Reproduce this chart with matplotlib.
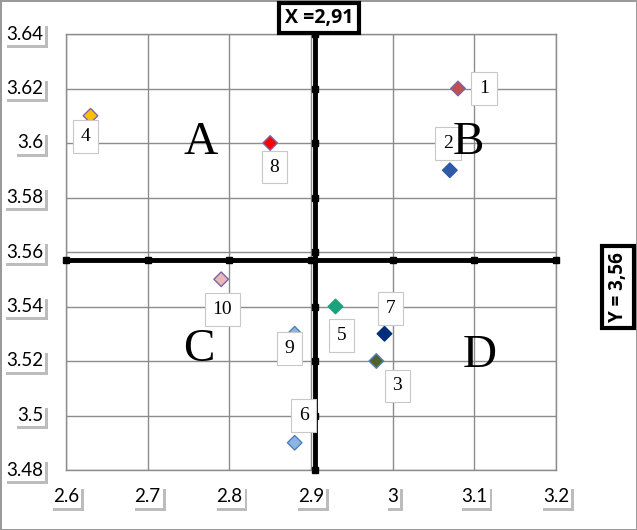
import matplotlib.pyplot as plt
from matplotlib import transforms
import matplotlib.patheffects as pe

# Data
point_ids = ["1", "2", "3", "4", "5", "6", "7", "8", "9", "10"]
x_vals = [3.08, 3.07, 2.98, 2.63, 2.93, 2.88, 2.99, 2.85, 2.88, 2.79]
y_vals = [3.62, 3.59, 3.52, 3.61, 3.54, 3.49, 3.53, 3.60, 3.53, 3.55]
point_colors = ["#c0504d", "#2e5aa8", "#4f6228", "#ffc000", "#1aa37a",
                "#8db4e2", "#002e7a", "#ff0000", "#8db4e2", "#e6b9b8"]
edge_colors = ["#8064a2", "#2e5aa8", "#4f81bd", "#8064a2", "#1aa37a",
               "#4f81bd", "#002e7a", "#8064a2", "#4f81bd", "#8064a2"]
# label box offsets from point (pixels)
label_offsets = [(26, 0), (-2, 27), (21, -25), (-5, -21), (6, -29),
                 (9, 27), (6, 25), (4, -24), (-5, -15), (1, -30)]

x_ticks = [2.6, 2.7, 2.8, 2.9, 3.0, 3.1, 3.2]
x_tick_labels = ["2.6", "2.7", "2.8", "2.9", "3", "3.1", "3.2"]
y_ticks = [3.48, 3.50, 3.52, 3.54, 3.56, 3.58, 3.60, 3.62, 3.64]
y_tick_labels = ["3.48", "3.5", "3.52", "3.54", "3.56", "3.58", "3.6", "3.62", "3.64"]

x_split = 2.905   # drawn position of "X =2,91"
y_split = 3.557   # drawn position of "Y = 3,56"

quadrants = ["A", "B", "C", "D"]
quad_x = [2.765, 3.093, 2.763, 3.106]
quad_y = [3.600, 3.600, 3.524, 3.522]

W, H = 637, 530
fig = plt.figure(figsize=(W / 100, H / 100), dpi=100)
fig.patch.set_edgecolor("#9a9a9a")
fig.patch.set_linewidth(2)

ax = fig.add_axes([66 / W, (H - 470) / H, 490 / W, 436 / H])
ax.set_xlim(2.6, 3.2)
ax.set_ylim(3.48, 3.64)
ax.set_xticks(x_ticks)
ax.set_yticks(y_ticks)
ax.set_xticklabels([])
ax.set_yticklabels([])
ax.tick_params(length=0)
ax.grid(True, color="#8c8c8c", linewidth=1)
ax.set_axisbelow(True)
for s in ax.spines.values():
    s.set_color("#8c8c8c")
    s.set_linewidth(1)

# tick labels with white box and shadow
sans = "Lato"
shadow = [pe.SimplePatchShadow(offset=(2, -2), shadow_rgbFace="#a0a0a0", alpha=0.7),
          pe.Normal()]
for xv, lab in zip(x_ticks, x_tick_labels):
    tr = transforms.blended_transform_factory(ax.transData, fig.transFigure)
    t = ax.text(xv, (H - 497) / H, lab, transform=tr, ha="center", va="center",
                fontsize=13.5, family=sans, color="black",
                bbox=dict(boxstyle="square,pad=0.12", fc="white", ec="none"))
    t.get_bbox_patch().set_path_effects(shadow)
for yv, lab in zip(y_ticks, y_tick_labels):
    tr = transforms.blended_transform_factory(fig.transFigure, ax.transData)
    t = ax.text(43 / W, yv, lab, transform=tr, ha="right", va="center",
                fontsize=13.5, family=sans, color="black",
                bbox=dict(boxstyle="square,pad=0.12", fc="white", ec="none"))
    t.get_bbox_patch().set_path_effects(shadow)

# split lines
ax.plot([x_split, x_split], [3.48, 3.64 + 0.002], color="black", lw=3.5,
        clip_on=False, zorder=3, solid_capstyle="butt")
ax.plot([2.6, 3.2], [y_split, y_split], color="black", lw=3.5,
        clip_on=False, zorder=3, solid_capstyle="butt")
ax.plot([x_split] * len(y_ticks), y_ticks, "s", color="black", ms=4,
        clip_on=False, zorder=3)
ax.plot(x_ticks, [y_split] * len(x_ticks), "s", color="black", ms=4,
        clip_on=False, zorder=3)

# points
ax.scatter(x_vals, y_vals, marker="D", s=55, c=point_colors,
           edgecolors=edge_colors, linewidths=1, zorder=4)

for pid, xv, yv, off in zip(point_ids, x_vals, y_vals, label_offsets):
    ax.annotate(pid, (xv, yv), xytext=off, textcoords="offset pixels",
                ha="center", va="center", fontsize=14,
                family="Liberation Serif", zorder=5,
                bbox=dict(boxstyle="square,pad=0.4", fc="white", ec="#c8c8c8", lw=0.8))

for q, qx, qy in zip(quadrants, quad_x, quad_y):
    ax.text(qx, qy, q, ha="center", va="center", fontsize=34,
            family="Liberation Serif", zorder=5)

# split labels
fig.text(319 / W, (H - 18) / H, "X =2,91", ha="center", va="center",
         fontsize=14, fontweight="bold", family="Open Sans",
         bbox=dict(boxstyle="square,pad=0.28", fc="white", ec="black", lw=3))
fig.text(618 / W, (H - 287) / H, "Y = 3,56", ha="center", va="center",
         rotation=90, fontsize=13.5, fontweight="bold", family="Open Sans",
         bbox=dict(boxstyle="square,pad=0.3", fc="white", ec="black", lw=3))

fig.savefig("out.png", dpi=100)
